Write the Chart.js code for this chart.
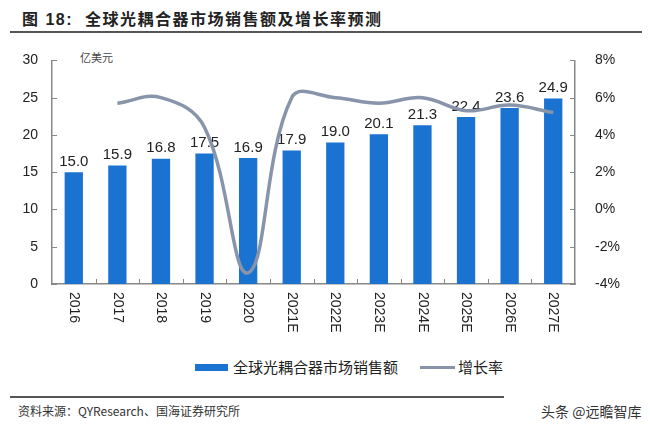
<!DOCTYPE html>
<html>
<head>
<meta charset="utf-8">
<script src="https://cdn.jsdelivr.net/npm/chart.js@4.4.1/dist/chart.umd.min.js"></script>
<style>
  body { margin: 0; background: #fff; }
  #wrap { position: relative; width: 650px; height: 429px; overflow: hidden; font-family: "Liberation Sans", "Noto Sans CJK SC", sans-serif; color: #222; }
  #title { position: absolute; left: 22px; top: 6px; font-size: 16px; font-weight: bold; font-family: "Liberation Sans", "Noto Sans CJK SC"; color: #222; letter-spacing: 1.5px; }
  .rule { position: absolute; height: 2px; background: #555; }
  #unit { position: absolute; left: 80px; top: 49px; font-size: 11px; color: #444; font-family: "Noto Sans CJK SC"; }
  #chartBox { position: absolute; left: 0; top: 40px; width: 650px; height: 300px; }
  .leg { position: absolute; top: 356px; font-size: 15px; color: #222; font-family: "Noto Sans CJK SC"; }
  #source { position: absolute; left: 18px; top: 402px; font-size: 12px; color: #333; font-family: "Noto Sans CJK SC", "Liberation Sans"; }
  #mark { position: absolute; left: 541px; top: 401px; font-size: 14px; color: #333; font-family: "Noto Sans CJK SC"; }
</style>
</head>
<body>
<div id="wrap">
  <div id="title">图 18:&nbsp; 全球光耦合器市场销售额及增长率预测</div>
  <div class="rule" style="left:10px; top:31px; width:632px;"></div>
  <div id="unit">亿美元</div>
  <div id="chartBox"><canvas id="grafica" width="650" height="300"></canvas></div>
  <div class="leg" style="left:195px;"><span style="display:inline-block;width:33px;height:7px;background:#1a73d1;vertical-align:middle;margin-right:5px;position:relative;top:-1px;"></span>全球光耦合器市场销售额</div>
  <div class="leg" style="left:420px;"><span style="display:inline-block;width:35px;height:3px;background:#8794aa;vertical-align:middle;margin-right:3px;position:relative;top:-1px;"></span>增长率</div>
  <div class="rule" style="left:10px; top:396px; width:494px;"></div>
  <div id="source">资料来源：QYResearch、国海证券研究所</div>
  <div id="mark">头条 @远瞻智库</div>
</div>

<script>
// ======================
// DATOS
// ======================
const anios = ["2016", "2017", "2018", "2019", "2020", "2021E", "2022E", "2023E", "2024E", "2025E", "2026E", "2027E"];
const ventas = [15.0, 15.9, 16.8, 17.5, 16.9, 17.9, 19.0, 20.1, 21.3, 22.4, 23.6, 24.9];
const crecimiento = [null, 5.7, 6.0, 4.4, -3.4, 6.0, 6.0, 5.7, 6.0, 5.3, 5.6, 5.2];
const ticksIzq = [0, 5, 10, 15, 20, 25, 30];
const ticksDer = [-4, -2, 0, 2, 4, 6, 8];

const fuenteEje = { family: "Liberation Sans", size: 14 };

// etiquetas encima de las barras (antes de pintar la linea)
const etiquetasBarras = {
    id: "etiquetasBarras",
    afterDatasetDraw(chart, args) {
        if (args.meta.type !== "bar") return;
        const ctx = chart.ctx;
        ctx.save();
        ctx.font = "15px 'Liberation Sans'";
        ctx.fillStyle = "#222";
        ctx.textAlign = "center";
        ctx.textBaseline = "bottom";
        args.meta.data.forEach((bar, i) => {
            ctx.fillText(ventas[i].toFixed(1), bar.x, bar.y - 3);
        });
        ctx.restore();
    }
};

// marcas de eje hacia dentro + etiquetas x giradas en sentido horario
const marcasInternas = {
    id: "marcasInternas",
    afterDraw(chart) {
        const ctx = chart.ctx;
        const a = chart.chartArea;
        ctx.save();
        ctx.strokeStyle = "#888";
        ctx.lineWidth = 1;
        ctx.beginPath();
        chart.scales.y.ticks.forEach(t => {
            const y = Math.round(chart.scales.y.getPixelForValue(t.value)) + 0.5;
            ctx.moveTo(a.left, y); ctx.lineTo(a.left + 5, y);
        });
        chart.scales.y1.ticks.forEach(t => {
            const y = Math.round(chart.scales.y1.getPixelForValue(t.value)) + 0.5;
            ctx.moveTo(a.right, y); ctx.lineTo(a.right - 5, y);
        });
        const paso = (a.right - a.left) / anios.length;
        for (let i = 1; i < anios.length; i++) {
            const x = Math.round(a.left + paso * i) + 0.5;
            ctx.moveTo(x, a.bottom); ctx.lineTo(x, a.bottom - 5);
        }
        ctx.stroke();

        ctx.font = "14px 'Liberation Sans'";
        ctx.fillStyle = "#222";
        ctx.textAlign = "left";
        ctx.textBaseline = "middle";
        anios.forEach((lab, i) => {
            const x = chart.scales.x.getPixelForValue(i);
            ctx.save();
            ctx.translate(x, a.bottom + 8);
            ctx.rotate(Math.PI / 2);
            ctx.fillText(lab, 0, 0);
            ctx.restore();
        });
        ctx.restore();
    }
};

new Chart(document.getElementById("grafica").getContext("2d"), {
    data: {
        labels: anios,
        datasets: [
            {
                type: "line",
                label: "增长率",
                data: crecimiento,
                yAxisID: "y1",
                borderColor: "#8794aa",
                borderWidth: 3.5,
                tension: 0.4,
                pointRadius: 0,
                order: 0
            },
            {
                type: "bar",
                label: "全球光耦合器市场销售额",
                data: ventas,
                yAxisID: "y",
                backgroundColor: "#1a73d1",
                categoryPercentage: 1,
                barPercentage: 0.42,
                order: 1
            }
        ]
    },
    options: {
        responsive: false,
        animation: false,
        layout: { padding: { top: 20, left: 0, right: 0, bottom: 0 } },
        plugins: {
            legend: { display: false },
            tooltip: { enabled: false }
        },
        scales: {
            x: {
                offset: true,
                grid: { display: false },
                border: { display: true, color: "#888", width: 1.5 },
                ticks: { display: false },
                afterFit(scale) { scale.height = 56; }
            },
            y: {
                position: "left",
                min: 0,
                max: 30,
                afterBuildTicks(scale) { scale.ticks = ticksIzq.map(v => ({ value: v })); },
                grid: { display: false },
                border: { display: true, color: "#888", width: 1.5 },
                ticks: { color: "#222", font: fuenteEje, padding: 6 },
                afterFit(scale) { scale.width = 52; }
            },
            y1: {
                position: "right",
                min: -4,
                max: 8,
                afterBuildTicks(scale) { scale.ticks = ticksDer.map(v => ({ value: v })); },
                grid: { display: false },
                border: { display: true, color: "#888", width: 1.5 },
                ticks: {
                    color: "#222",
                    font: fuenteEje,
                    padding: 12,
                    callback: v => v + "%"
                },
                afterFit(scale) { scale.width = 75; }
            }
        }
    },
    plugins: [etiquetasBarras, marcasInternas]
});
</script>
</body>
</html>
